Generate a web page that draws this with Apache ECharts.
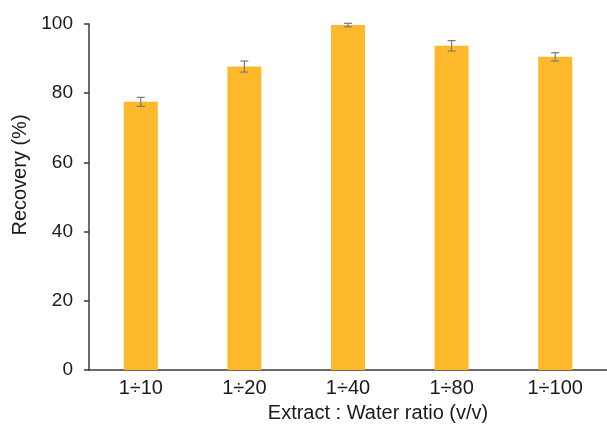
<!DOCTYPE html>
<html>
<head>
<meta charset="utf-8">
<script src="https://cdn.jsdelivr.net/npm/echarts@6/dist/echarts.min.js"></script>
<style>
  html, body { margin: 0; padding: 0; background: #fff; }
  #chart { width: 607px; height: 430px; }
</style>
</head>
<body>
<div id="chart"></div>
<script>
// data
const ratios = ['1÷10', '1÷20', '1÷40', '1÷80', '1÷100'];
const recovery = [77.5, 87.7, 99.7, 93.7, 90.5];
const errors = [1.3, 1.6, 0.5, 1.5, 1.2];
const yTicks = [0, 20, 40, 60, 80, 100];

const font = '"Liberation Sans", Arial, sans-serif';
const axisColor = '#3a3a3a';

let errData = [];
for (let i = 0; i < ratios.length; i++) {
    errData.push([i, recovery[i] - errors[i], recovery[i] + errors[i]]);
}

function renderErr(params, api) {
    let lo = api.coord([api.value(0), api.value(1)]);
    let hi = api.coord([api.value(0), api.value(2)]);
    let cap = 4;
    let style = { stroke: '#7a7a7a', lineWidth: 1.2 };
    return {
        type: 'group',
        children: [
            { type: 'line', shape: { x1: lo[0], y1: lo[1], x2: hi[0], y2: hi[1] }, style: style },
            { type: 'line', shape: { x1: lo[0] - cap, y1: lo[1], x2: lo[0] + cap, y2: lo[1] }, style: style },
            { type: 'line', shape: { x1: hi[0] - cap, y1: hi[1], x2: hi[0] + cap, y2: hi[1] }, style: style }
        ]
    };
}

const chart = echarts.init(document.getElementById('chart'));
chart.setOption({
    animation: false,
    backgroundColor: '#fff',
    grid: { left: 89, top: 24, width: 520, height: 346 },
    xAxis: {
        type: 'category',
        data: ratios,
        name: 'Extract : Water ratio (v/v)',
        nameLocation: 'middle',
        nameGap: 33,
        nameTextStyle: { fontFamily: font, fontSize: 20, color: '#1a1a1a', padding: [0, 0, 0, 60] },
        axisLine: { lineStyle: { color: axisColor, width: 1.5 } },
        axisTick: { alignWithLabel: true, length: 5, lineStyle: { color: axisColor, width: 1.5 } },
        axisLabel: { margin: 8, fontFamily: font, fontSize: 20, color: '#1a1a1a' }
    },
    yAxis: {
        type: 'value',
        min: yTicks[0],
        max: yTicks[yTicks.length - 1],
        interval: 20,
        name: 'Recovery (%)',
        nameLocation: 'middle',
        nameGap: 56,
        nameTextStyle: { fontFamily: font, fontSize: 20, color: '#1a1a1a', padding: [0, 0, 0, 44] },
        axisLine: { show: true, lineStyle: { color: axisColor, width: 1.5 } },
        axisTick: { show: true, length: 5, lineStyle: { color: axisColor, width: 1.5 } },
        axisLabel: { margin: 16, fontFamily: font, fontSize: 19, color: '#1a1a1a' },
        splitLine: { show: false }
    },
    series: [
        {
            type: 'bar',
            data: recovery,
            barWidth: 34,
            itemStyle: { color: '#FDB92B' }
        },
        {
            type: 'custom',
            data: errData,
            renderItem: renderErr,
            z: 10
        }
    ]
});
</script>
</body>
</html>
